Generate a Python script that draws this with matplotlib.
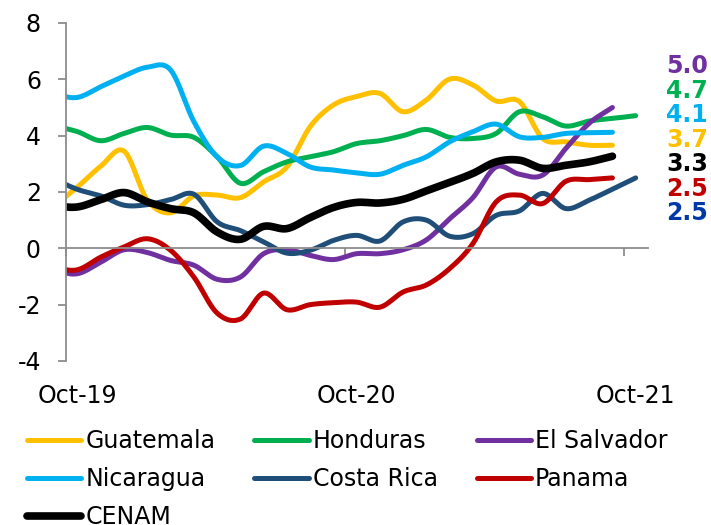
"""Central America: monthly series Oct-19 to Oct-21, smoothed lines."""

import matplotlib.pyplot as plt
import numpy as np

plt.rcParams["font.family"] = ["DejaVu Sans"]
plt.rcParams["axes.unicode_minus"] = False

# Sep-19 .. Oct-21 (26 months); Sep-19 sits just left of the axis and is clipped
guatemala = [1.5, 2.18, 2.92, 3.45, 1.71, 1.26, 1.86, 1.89, 1.80, 2.36, 2.89, 4.32, 5.09,
             5.39, 5.50, 4.85, 5.27, 6.01, 5.80, 5.23, 5.21, 3.90, 3.78, 3.66, 3.66, np.nan]
honduras = [4.35, 4.14, 3.82, 4.08, 4.29, 4.02, 3.94, 3.25, 2.31, 2.72, 3.07, 3.25, 3.43,
            3.72, 3.82, 4.00, 4.22, 3.94, 3.90, 4.08, 4.85, 4.67, 4.34, 4.52, 4.61, 4.71]
el_salvador = [-0.8, -0.90, -0.49, -0.05, -0.15, -0.43, -0.60, -1.10, -1.02, -0.19, -0.05,
               -0.25, -0.40, -0.19, -0.19, -0.05, 0.30, 1.05, 1.80, 2.89, 2.63, 2.60, 3.55,
               4.44, 5.00, np.nan]
nicaragua = [5.45, 5.36, 5.74, 6.12, 6.43, 6.33, 4.50, 3.25, 2.94, 3.63, 3.37, 2.89, 2.78,
             2.68, 2.63, 2.95, 3.25, 3.78, 4.14, 4.41, 3.96, 3.94, 4.08, 4.10, 4.12, np.nan]
costa_rica = [2.45, 2.09, 1.86, 1.53, 1.55, 1.73, 1.92, 0.94, 0.63, 0.23, -0.17, -0.07, 0.28,
              0.46, 0.26, 0.94, 1.00, 0.43, 0.52, 1.17, 1.33, 1.95, 1.41, 1.71, 2.10, 2.50]
panama = [-0.7, -0.76, -0.31, 0.05, 0.34, -0.07, -1.02, -2.30, -2.51, -1.59, -2.18, -2.00,
          -1.93, -1.91, -2.09, -1.55, -1.30, -0.72, 0.17, 1.65, 1.89, 1.59, 2.38, 2.44, 2.50,
          np.nan]
cenam = [1.5, 1.47, 1.73, 1.98, 1.65, 1.41, 1.26, 0.58, 0.32, 0.78, 0.70, 1.09, 1.45, 1.63,
         1.61, 1.74, 2.04, 2.34, 2.66, 3.07, 3.13, 2.84, 2.95, 3.07, 3.27, np.nan]

tick_labels = ["Oct-19", "Oct-20", "Oct-21"]
end_labels = ["5.0", "4.7", "4.1", "3.7", "3.3", "2.5", "2.5"]
end_colors = ["#7030A0", "#00B050", "#00B0F0", "#FFC000", "black", "#C00000", "#0038A8"]


def smooth(x, y, steps=20):
    """Excel-like smoothed line (Catmull-Rom Bezier) through the points."""
    x = np.asarray(x, dtype=float)
    y = np.asarray(y, dtype=float)
    keep = ~np.isnan(y)
    x, y = x[keep], y[keep]
    px = np.concatenate([[2 * x[0] - x[1]], x, [2 * x[-1] - x[-2]]])
    py = np.concatenate([[2 * y[0] - y[1]], y, [2 * y[-1] - y[-2]]])
    t = np.linspace(0, 1, steps, endpoint=False)
    xs, ys = [], []
    for i in range(1, len(px) - 2):
        for p, out in ((px, xs), (py, ys)):
            p0, p1, p2, p3 = p[i - 1], p[i], p[i + 1], p[i + 2]
            c1 = p1 + (p2 - p0) / 6
            c2 = p2 - (p3 - p1) / 6
            out.extend((1 - t) ** 3 * p1 + 3 * (1 - t) ** 2 * t * c1
                       + 3 * (1 - t) * t ** 2 * c2 + t ** 3 * p2)
    xs.append(x[-1])
    ys.append(y[-1])
    return np.array(xs), np.array(ys)


series = [
    ("Guatemala", guatemala, "#FFC000", 3.6),
    ("Honduras", honduras, "#00B050", 3.6),
    ("El Salvador", el_salvador, "#7030A0", 3.6),
    ("Nicaragua", nicaragua, "#00B0F0", 3.6),
    ("Costa Rica", costa_rica, "#1F4E79", 3.6),
    ("Panama", panama, "#C00000", 3.6),
    ("CENAM", cenam, "black", 5.5),
]

fig = plt.figure(figsize=(7.11, 5.25), dpi=100)
ax = fig.add_axes([0.0928, 0.3124, 0.8186, 0.6438])

pos = np.arange(len(guatemala)) - 0.5
handles = {}
for name, values, color, lw in series:
    xs, ys = smooth(pos, values)
    (line,) = ax.plot(xs, ys, color=color, linewidth=lw, solid_capstyle="round",
                      label=name)
    handles[name] = line

ax.set_xlim(0, 25.03)
ax.set_ylim(-4, 8)
ax.set_yticks(range(-4, 9, 2))
ax.spines["top"].set_visible(False)
ax.spines["right"].set_visible(False)
ax.spines["bottom"].set_position(("data", 0))
for side in ("left", "bottom"):
    ax.spines[side].set_color("#8C8C8C")
    ax.spines[side].set_linewidth(1.3)
ax.tick_params(axis="both", colors="#8C8C8C", length=6, width=1.3, direction="out")
ax.tick_params(axis="y", labelcolor="black", labelsize=17, pad=12)
ax.set_xticks([0, 12, 24])
ax.tick_params(axis="x", labelbottom=False)

for i, lab in enumerate(tick_labels):
    ax.text(0.5 + 12 * i, -0.105, lab, transform=ax.get_xaxis_transform(),
            ha="center", va="center", fontsize=17)

for i, (lab, col) in enumerate(zip(end_labels, end_colors)):
    fig.text(0.937, 1 - (66 + 24.5 * i) / 525, lab, color=col, fontsize=17,
             fontweight="bold", ha="left", va="center")

order = ["Guatemala", "Nicaragua", "CENAM", "Honduras", "Costa Rica", "El Salvador", "Panama"]
fig.legend([handles[n] for n in order], order, ncol=3, loc="upper left",
           bbox_to_anchor=(0.038, 0.183), frameon=False, fontsize=17,
           handlelength=2.3, handletextpad=0.17, columnspacing=1.65, labelspacing=0.6,
           borderaxespad=0, borderpad=0)

fig.savefig("out.png", dpi=100)
